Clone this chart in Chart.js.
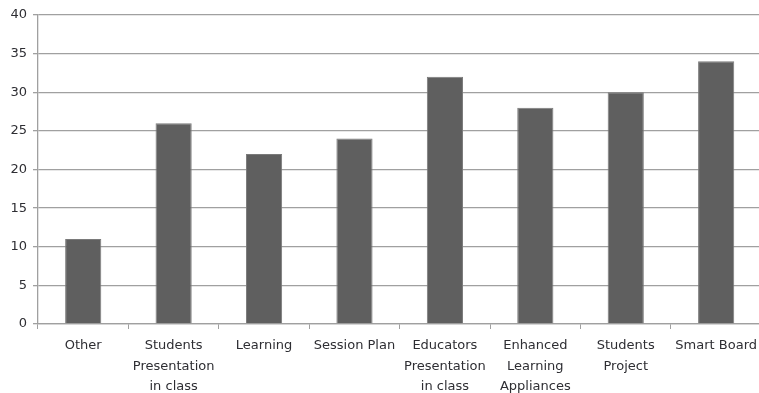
<!DOCTYPE html>
<html>
<head>
<meta charset="utf-8">
<script src="https://cdn.jsdelivr.net/npm/chart.js@4"></script>
<style>
  html, body { margin: 0; padding: 0; background: #fff; overflow: hidden; }
  #wrap { width: 764px; height: 393px; }
</style>
</head>
<body>
<div id="wrap"><canvas id="myChart" width="764" height="393"></canvas></div>
<script>
// category labels, split into lines the way they wrap under each bar
const categories = [
  ["Other"],
  ["Students", "Presentation", "in class"],
  ["Learning"],
  ["Session Plan"],
  ["Educators", "Presentation", "in class"],
  ["Enhanced", "Learning", "Appliances"],
  ["Students", "Project"],
  ["Smart Board"],
];
const counts = [11, 26, 22, 24, 32, 28, 30, 34];
const yTicks = [0, 5, 10, 15, 20, 25, 30, 35, 40];

const gridColor = "#a0a0a0";
const textColor = "#2e2e33";

new Chart(document.getElementById("myChart"), {
  type: "bar",
  data: {
    labels: categories,
    datasets: [
      {
        data: counts,
        backgroundColor: "#5f5f5f",
        borderColor: "#7a7a7a",
        borderWidth: 1,
        barPercentage: 0.4,
        categoryPercentage: 1,
      },
    ],
  },
  options: {
    responsive: false,
    animation: false,
    layout: { padding: { top: 15, right: 0, left: 0, bottom: 0 } },
    plugins: {
      legend: { display: false },
      tooltip: { enabled: false },
    },
    scales: {
      x: {
        grid: {
          drawOnChartArea: false,
          drawTicks: true,
          tickLength: 5,
          color: gridColor,
          offset: true,
        },
        border: { color: gridColor, width: 1.3 },
        ticks: {
          maxRotation: 0,
          autoSkip: false,
          color: textColor,
          padding: 7,
          font: { family: "DejaVu Sans", size: 13, lineHeight: 1.55 },
        },
        afterFit: (axis) => {
          axis.height = 69;
        },
      },
      y: {
        min: 0,
        max: 40,
        afterBuildTicks: (axis) => {
          axis.ticks = yTicks.map((v) => ({ value: v }));
        },
        grid: {
          color: gridColor,
          lineWidth: 1.3,
          tickLength: 5,
        },
        border: { color: gridColor, width: 1.3 },
        ticks: {
          color: textColor,
          padding: 6,
          font: { family: "DejaVu Sans", size: 13 },
        },
        afterFit: (axis) => {
          axis.width = 38;
        },
      },
    },
  },
});
</script>
</body>
</html>
